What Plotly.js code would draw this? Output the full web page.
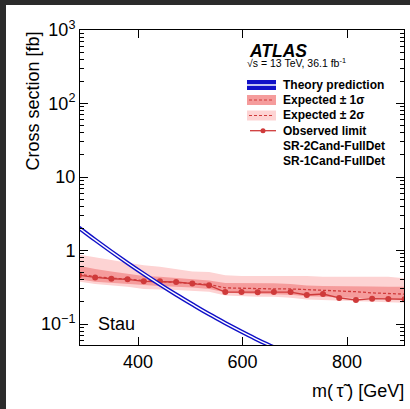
<!DOCTYPE html>
<html>
<head>
<meta charset="utf-8">
<script src="https://cdn.plot.ly/plotly-3.0.1.min.js"></script>
<style>
  html, body { margin: 0; padding: 0; background: #2b2b2b; width: 410px; height: 409px; overflow: hidden; }
  #plot { position: absolute; left: 6px; top: 5px; width: 404px; height: 404px; background: #fff; }
</style>
</head>
<body>
<div id="plot"></div>
<script>
// Stau mass points [GeV]
const mass = [287, 318, 349, 380, 411, 442, 473, 504, 536, 567, 598, 629, 660, 692, 723, 754, 785, 817, 848, 879, 910];

// 95% CL upper limits on the cross section [fb]
const observed = [0.46, 0.43, 0.413, 0.406, 0.381, 0.381, 0.373, 0.355, 0.336, 0.272, 0.272, 0.27, 0.272, 0.272, 0.248, 0.256, 0.226, 0.212, 0.221, 0.219, 0.217];
const expected = [0.48, 0.44, 0.42, 0.41, 0.39, 0.38, 0.37, 0.36, 0.345, 0.31, 0.305, 0.30, 0.30, 0.30, 0.295, 0.29, 0.28, 0.275, 0.265, 0.26, 0.255];
const exp1Up   = [0.62, 0.56, 0.52, 0.48, 0.45, 0.44, 0.42, 0.405, 0.39, 0.36, 0.36, 0.358, 0.358, 0.35, 0.335, 0.33, 0.33, 0.325, 0.325, 0.32, 0.32];
const exp1Down = [0.405, 0.375, 0.36, 0.35, 0.34, 0.33, 0.32, 0.315, 0.30, 0.27, 0.26, 0.255, 0.254, 0.25, 0.238, 0.235, 0.23, 0.226, 0.222, 0.219, 0.217];
const exp2Up   = [0.88, 0.80, 0.74, 0.68, 0.63, 0.60, 0.56, 0.52, 0.51, 0.46, 0.45, 0.45, 0.45, 0.46, 0.45, 0.44, 0.44, 0.44, 0.44, 0.44, 0.42];
const exp2Down = [0.377, 0.35, 0.335, 0.32, 0.30, 0.295, 0.29, 0.285, 0.275, 0.245, 0.24, 0.235, 0.235, 0.228, 0.215, 0.212, 0.208, 0.204, 0.20, 0.197, 0.195];

// Theory cross section for stau pair production [fb]
const theoryMass = [287, 318, 349, 380, 411, 442, 473, 504, 536, 567, 598, 629, 660, 692];
const theory = [2.04, 1.394, 0.966, 0.677, 0.480, 0.345, 0.251, 0.185, 0.136, 0.103, 0.079, 0.061, 0.048, 0.037];

// Axis ticks
const xTicks = [400, 600, 800];
const yTicks = [0.1, 1, 10, 100, 1000];
const yTickText = ['10<sup>\u22121</sup>', '1', '10', '10<sup>2</sup>', '10<sup>3</sup>'];

const yMinor = [];
for (let e = -2; e <= 2; e++) {
  for (let d = 2; d <= 9; d++) yMinor.push(d * Math.pow(10, e));
}

const red = '#cf3a3a';
const darkPink = '#f59c9c';
const lightPink = '#fdd3d3';
const blue = '#1010c8';

function band(up, down, color) {
  return {
    x: mass.concat(mass.slice().reverse()),
    y: up.concat(down.slice().reverse()),
    type: 'scatter', mode: 'lines', fill: 'toself',
    fillcolor: color, line: { width: 0, color: color },
    hoverinfo: 'skip', showlegend: false
  };
}

const traces = [
  band(exp2Up, exp2Down, lightPink),
  band(exp1Up, exp1Down, darkPink),
  { x: mass, y: expected, type: 'scatter', mode: 'lines',
    line: { color: red, width: 1.3, dash: '3px,2px' }, showlegend: false },
  { x: mass, y: observed, type: 'scatter', mode: 'lines+markers',
    line: { color: red, width: 1.3 }, marker: { color: red, size: 6 }, showlegend: false },
  // theory drawn as a blue double line
  { x: theoryMass, y: theory, type: 'scatter', mode: 'lines',
    line: { color: blue, width: 4.2, shape: 'spline' }, showlegend: false },
  { x: theoryMass, y: theory, type: 'scatter', mode: 'lines',
    line: { color: '#ffffff', width: 1.4, shape: 'spline' }, showlegend: false }
];

// pixel helpers for the hand-made legend (plot area: x 80..404, y 30..345 on the page)
const PX = px => (px - 80) / 324;
const PY = py => (345 - py) / 315;

const font = 'Liberation Sans, Arial, Helvetica, sans-serif';

const legendRows = [
  'Theory prediction',
  'Expected \u00b1 1\u03c3',
  'Expected \u00b1 2\u03c3',
  'Observed limit',
  'SR-2Cand-FullDet',
  'SR-1Cand-FullDet'
];
const rowY = [84.5, 100, 115.3, 130.7, 146, 161.3];

const shapes = [
  // theory symbol
  { type: 'rect', xref: 'paper', yref: 'paper', x0: PX(247), x1: PX(276), y0: PY(80), y1: PY(90), fillcolor: blue, line: { width: 0 } },
  { type: 'line', xref: 'paper', yref: 'paper', x0: PX(247), x1: PX(276), y0: PY(85), y1: PY(85), line: { color: '#ffffff', width: 1.5 } },
  // expected 1 sigma symbol
  { type: 'rect', xref: 'paper', yref: 'paper', x0: PX(247), x1: PX(276), y0: PY(95), y1: PY(105), fillcolor: darkPink, line: { width: 0 } },
  { type: 'line', xref: 'paper', yref: 'paper', x0: PX(249), x1: PX(274), y0: PY(100), y1: PY(100), line: { color: red, width: 1.2, dash: '3px,2px' } },
  // expected 2 sigma symbol
  { type: 'rect', xref: 'paper', yref: 'paper', x0: PX(247), x1: PX(276), y0: PY(110.5), y1: PY(120.5), fillcolor: lightPink, line: { width: 0 } },
  { type: 'line', xref: 'paper', yref: 'paper', x0: PX(249), x1: PX(274), y0: PY(115.5), y1: PY(115.5), line: { color: red, width: 1.2, dash: '3px,2px' } },
  // observed symbol
  { type: 'line', xref: 'paper', yref: 'paper', x0: PX(250), x1: PX(276), y0: PY(130.7), y1: PY(130.7), line: { color: red, width: 1.3 } },
  { type: 'circle', xref: 'paper', yref: 'paper', x0: PX(260.5), x1: PX(265.5), y0: PY(128.2), y1: PY(133.2), fillcolor: red, line: { width: 0 } }
];

const annotations = legendRows.map((t, i) => ({
  xref: 'paper', yref: 'paper', x: PX(281), y: PY(rowY[i]),
  xanchor: 'left', yanchor: 'middle', showarrow: false,
  text: '<b>' + t + '</b>', font: { family: font, size: 12, color: '#000' }
}));

annotations.push(
  { xref: 'paper', yref: 'paper', x: PX(247), y: PY(51.5), xanchor: 'left', yanchor: 'middle', showarrow: false,
    text: '<b><i>ATLAS</i></b>', font: { family: font, size: 17.5, color: '#000' } },
  { xref: 'paper', yref: 'paper', x: PX(245), y: PY(63), xanchor: 'left', yanchor: 'middle', showarrow: false,
    text: '\u221as = 13 TeV, 36.1 fb<sup>-1</sup>', font: { family: font, size: 10.5, color: '#000' } },
  { xref: 'paper', yref: 'paper', x: PX(96), y: PY(324), xanchor: 'left', yanchor: 'middle', showarrow: false,
    text: 'Stau', font: { family: font, size: 18, color: '#000' } },
  { xref: 'paper', yref: 'paper', x: PX(406), y: PY(390.5), xanchor: 'right', yanchor: 'middle', showarrow: false,
    text: 'm(\u2009\u03c4\u0303\u2009) [GeV]', font: { family: font, size: 18, color: '#000' } },
  { xref: 'paper', yref: 'paper', x: PX(32.5), y: PY(101), xanchor: 'center', yanchor: 'middle', showarrow: false,
    textangle: -90, text: 'Cross section [fb]', font: { family: font, size: 18, color: '#000' } }
);

const layout = {
  width: 404, height: 404,
  margin: { l: 74, r: 6, t: 25, b: 64, pad: 0 },
  paper_bgcolor: '#ffffff', plot_bgcolor: '#ffffff',
  font: { family: font, size: 18, color: '#000' },
  showlegend: false,
  xaxis: {
    range: [289, 909], tickvals: xTicks, ticks: 'inside', ticklen: 8, tickcolor: '#000', tickwidth: 1,
    showline: true, linecolor: '#000', linewidth: 1, mirror: 'ticks',
    showgrid: false, zeroline: false, tickfont: { family: font, size: 18, color: '#000' }
  },
  yaxis: {
    type: 'log', range: [Math.log10(0.0518), 3],
    tickvals: yTicks, ticktext: yTickText, ticks: 'inside', ticklen: 8, tickcolor: '#000', tickwidth: 1,
    minor: { tickvals: yMinor, ticks: 'inside', ticklen: 4, tickcolor: '#000', showgrid: false },
    showline: true, linecolor: '#000', linewidth: 1, mirror: 'ticks',
    showgrid: false, zeroline: false, tickfont: { family: font, size: 18, color: '#000' }
  },
  shapes: shapes,
  annotations: annotations
};

Plotly.newPlot('plot', traces, layout, { displayModeBar: false, staticPlot: true });
</script>
</body>
</html>
